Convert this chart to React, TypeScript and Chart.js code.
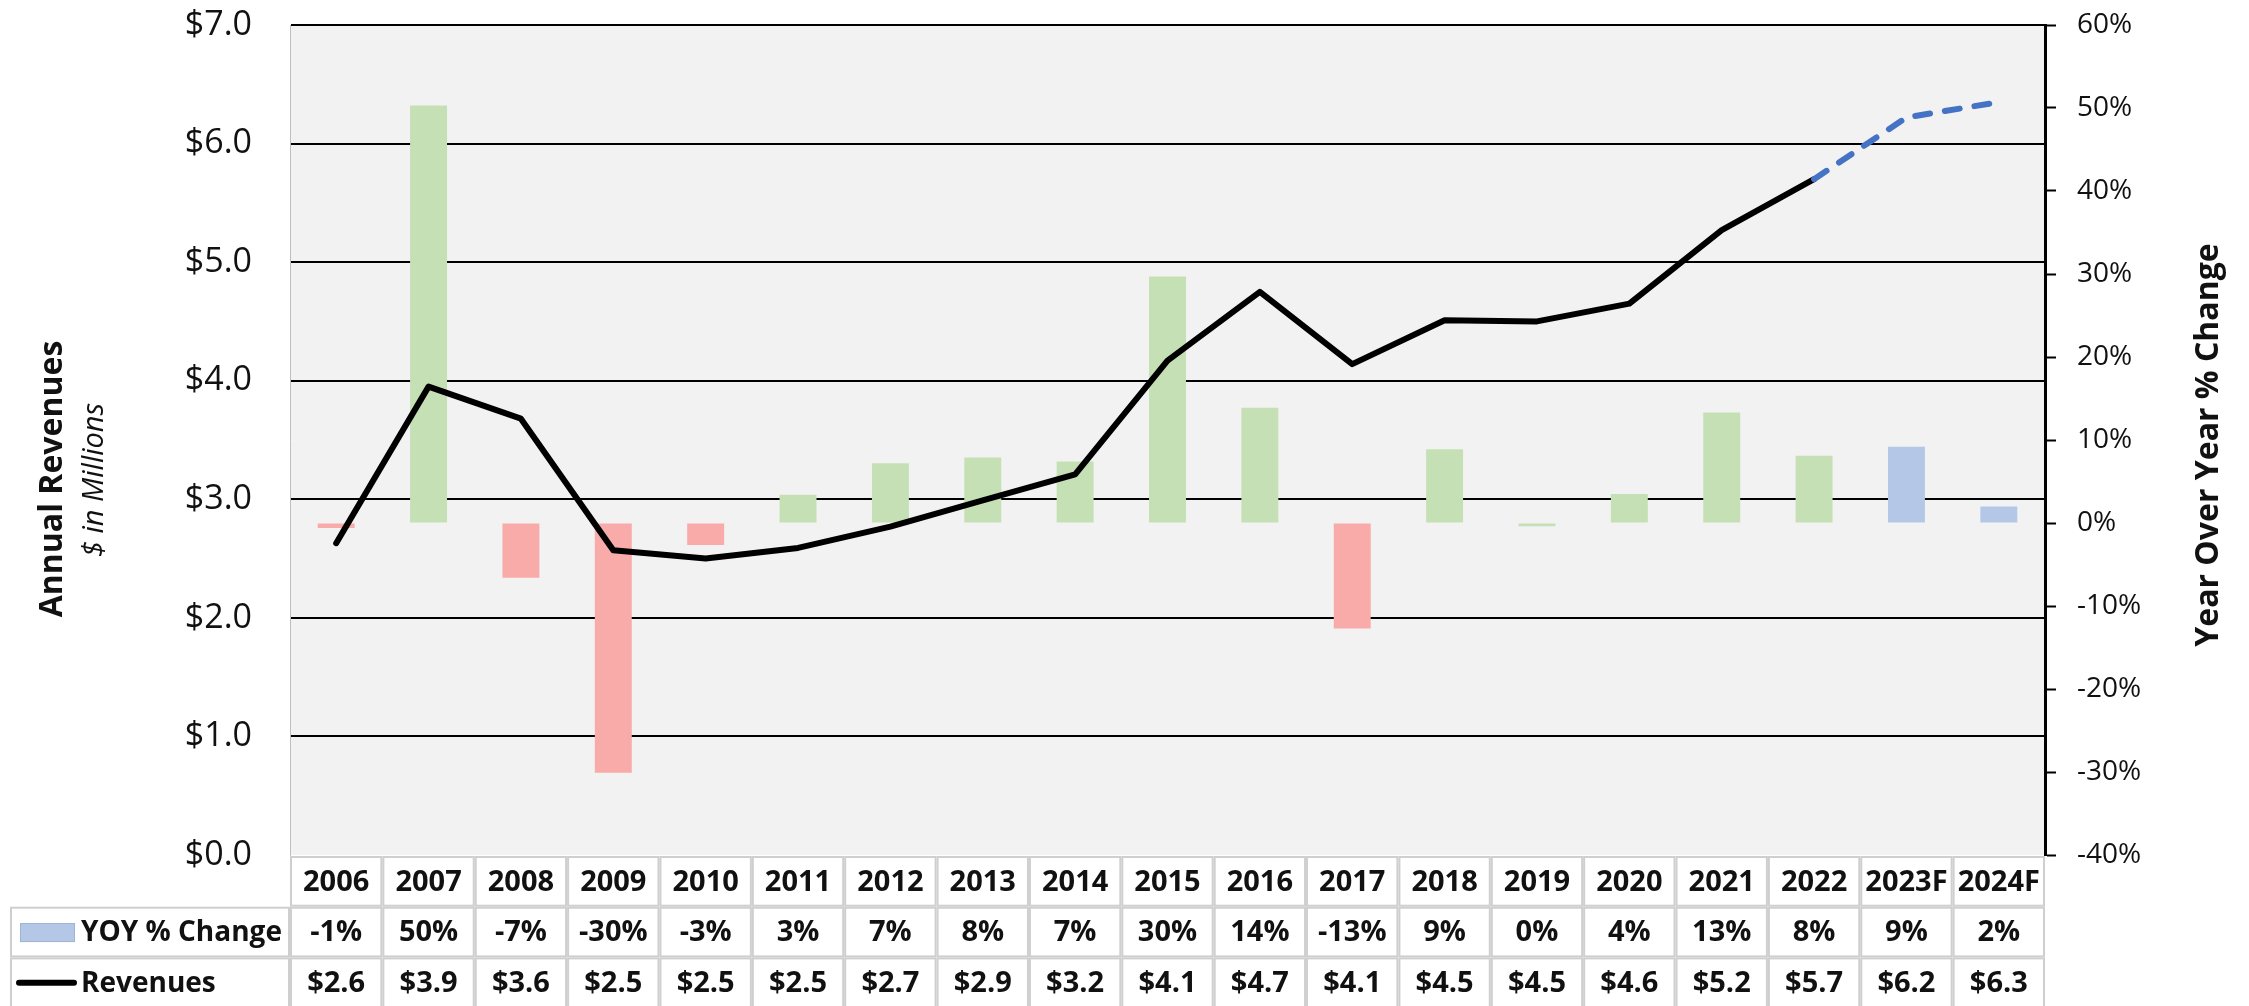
import React, { useEffect, useRef } from 'react';
import { Chart, registerables } from 'chart.js';

Chart.register(...registerables);

// ---------- data ----------
const years = ['2006', '2007', '2008', '2009', '2010', '2011', '2012', '2013', '2014', '2015', '2016', '2017', '2018', '2019', '2020', '2021', '2022', '2023F', '2024F'];
// Annual revenues, $ in millions
const revenues = [2.63, 3.95, 3.68, 2.57, 2.50, 2.59, 2.77, 2.99, 3.21, 4.17, 4.75, 4.14, 4.51, 4.50, 4.65, 5.27, 5.70, 6.22, 6.35];
// Year over year % change
const yoyChange = [-0.6, 50.3, -6.6, -30.1, -2.65, 3.4, 7.2, 7.9, 7.4, 29.7, 13.9, -12.7, 8.9, -0.4, 3.5, 13.3, 8.1, 9.2, 2.0];
const firstForecastIndex = 17;
const leftAxisRange = [0, 7, 1];
const rightAxisRange = [-40, 60, 10];
const seriesNames = ['YOY % Change', 'Revenues'];
const axisTitles = ['Annual Revenues', '$ in Millions', 'Year Over Year % Change'];

// ---------- styles ----------
const FONT = '"Open Sans", "Noto Sans", sans-serif';
const GREEN = '#c5e0b4';
const RED = '#f8aba9';
const BLUE_BAR = '#b4c7e7';
const BLUE_LINE = '#4472c4';
const TEXT = '#111111';

const yoyLabel = (v: number) => String(Math.round(v)) + '%';
const revLabel = (v: number) => '$' + (Math.floor(v * 10 + 1e-6) / 10).toFixed(1);

const barColors = yoyChange.map((v, i) =>
  i >= firstForecastIndex ? BLUE_BAR : Math.round(v) >= 0 ? GREEN : RED
);

const bgPlugin = {
  id: 'plotBg',
  beforeDraw(chart: any) {
    const { ctx, chartArea: a } = chart;
    ctx.save();
    ctx.fillStyle = '#ffffff';
    ctx.fillRect(0, 0, chart.width, chart.height);
    ctx.fillStyle = '#f2f2f2';
    ctx.fillRect(a.left, a.top, a.right - a.left, a.bottom - a.top);
    ctx.restore();
  },
};

const tablePlugin = {
  id: 'dataTable',
  afterDraw(chart: any) {
    const { ctx, chartArea: a, scales } = chart;
    const xs = scales.x;
    const n = years.length;
    const colW = (a.right - a.left) / n;
    const rowH = 50.7;
    const top = a.bottom + 1;
    const legendLeft = 11;
    ctx.save();
    // cell backgrounds
    ctx.fillStyle = '#ffffff';
    ctx.fillRect(a.left, top, a.right - a.left, rowH * 3);
    ctx.fillRect(legendLeft, top + rowH, a.left - legendLeft, rowH * 2);
    // borders
    ctx.strokeStyle = '#cfcfcf';
    ctx.lineWidth = 2;
    for (let r = 0; r < 3; r++) {
      for (let i = 0; i < n; i++) {
        ctx.strokeRect(a.left + i * colW + 1, top + r * rowH + 1, colW - 2, rowH - 2);
      }
      if (r > 0) {
        ctx.strokeRect(legendLeft, top + r * rowH + 1, a.left - legendLeft - 1, rowH - 2);
      }
    }
    // texts
    ctx.fillStyle = TEXT;
    ctx.textAlign = 'center';
    ctx.textBaseline = 'middle';
    ctx.font = 'bold 29px ' + FONT;
    for (let i = 0; i < n; i++) {
      const cx = xs.getPixelForValue(i);
      ctx.fillText(years[i], cx, top + rowH * 0.5 + 1);
      ctx.fillText(yoyLabel(yoyChange[i]), cx, top + rowH * 1.5 + 1);
      ctx.fillText(revLabel(revenues[i]), cx, top + rowH * 2.5 + 1);
    }
    // legend keys
    const y1 = top + rowH * 1.5;
    const y2 = top + rowH * 2.5;
    ctx.fillStyle = BLUE_BAR;
    ctx.fillRect(20, y1 - 9, 55, 19);
    ctx.strokeStyle = '#9fb3d8';
    ctx.lineWidth = 1;
    ctx.strokeRect(20.5, y1 - 8.5, 54, 18);
    ctx.strokeStyle = '#000';
    ctx.lineWidth = 6;
    ctx.lineCap = 'round';
    ctx.beginPath();
    ctx.moveTo(19, y2);
    ctx.lineTo(74, y2);
    ctx.stroke();
    ctx.fillStyle = TEXT;
    ctx.textAlign = 'left';
    ctx.font = 'bold 28px ' + FONT;
    ctx.fillText(seriesNames[0], 81, y1 + 1);
    ctx.fillText(seriesNames[1], 81, y2 + 1);
    ctx.restore();
  },
};

const titlePlugin = {
  id: 'axisTitles',
  afterDraw(chart: any) {
    const { ctx } = chart;
    const draw = (text: string, font: string, x: number, y: number) => {
      ctx.save();
      ctx.translate(x, y);
      ctx.rotate(-Math.PI / 2);
      ctx.font = font;
      ctx.fillStyle = TEXT;
      ctx.textAlign = 'center';
      ctx.textBaseline = 'alphabetic';
      ctx.fillText(text, 0, 0);
      ctx.restore();
    };
    draw(axisTitles[0], 'bold 32px ' + FONT, 62, 479);
    draw(axisTitles[1], 'italic 29px ' + FONT, 103, 480);
    draw(axisTitles[2], 'bold 32px ' + FONT, 2218, 445);
  },
};

export default function App() {
  const ref = useRef<HTMLCanvasElement>(null);

  useEffect(() => {
    document.body.style.margin = '0';
    const canvas = ref.current;
    if (!canvas) return;
    Chart.defaults.font.family = FONT;

    const chart = new Chart(canvas, {
      type: 'bar',
      data: {
        labels: years,
        datasets: [
          {
            type: 'line',
            label: seriesNames[1],
            data: revenues,
            yAxisID: 'y',
            borderColor: '#000000',
            borderWidth: 6,
            pointRadius: 0,
            pointHoverRadius: 0,
            tension: 0,
            fill: false,
            order: 0,
            borderCapStyle: 'round',
            borderJoinStyle: 'round',
            segment: {
              borderColor: (c: any) => (c.p0DataIndex >= firstForecastIndex - 1 ? BLUE_LINE : '#000000'),
              borderDash: (c: any) => (c.p0DataIndex >= firstForecastIndex - 1 ? [15, 15] : []),
            },
          } as any,
          {
            type: 'bar',
            label: seriesNames[0],
            data: yoyChange,
            yAxisID: 'y1',
            backgroundColor: barColors,
            borderWidth: 0,
            barPercentage: 0.4,
            categoryPercentage: 1.0,
            order: 1,
          },
        ],
      },
      options: {
        responsive: false,
        devicePixelRatio: 1,
        animation: false,
        layout: { padding: { left: 0, right: 0, top: 25, bottom: 151 } },
        plugins: {
          legend: { display: false },
          tooltip: { enabled: false },
          title: { display: false },
        },
        scales: {
          x: { display: false, offset: true },
          y: {
            position: 'left',
            min: leftAxisRange[0],
            max: leftAxisRange[1],
            ticks: {
              stepSize: leftAxisRange[2],
              padding: 38,
              color: TEXT,
              font: { size: 34, family: FONT },
              callback: (v: any) => '$' + Number(v).toFixed(1),
            },
            grid: {
              color: (c: any) => (c.tick && c.tick.value === 0 ? 'rgba(0,0,0,0)' : '#000000'),
              lineWidth: 2,
              drawTicks: false,
            },
            border: { display: true, color: '#bfbfbf', width: 1 },
            afterFit: (s: any) => {
              s.width = 290;
              s.paddingTop = 0;
              s.paddingBottom = 0;
            },
          },
          y1: {
            position: 'right',
            min: rightAxisRange[0],
            max: rightAxisRange[1],
            ticks: {
              stepSize: rightAxisRange[2],
              padding: 21,
              color: TEXT,
              font: { size: 28, family: FONT },
              callback: (v: any) => v + '%',
            },
            grid: {
              drawOnChartArea: false,
              drawTicks: true,
              tickLength: 11,
              tickColor: '#000000',
              tickWidth: 2,
            },
            border: { display: true, color: '#000000', width: 3 },
            afterFit: (s: any) => {
              s.width = 204;
              s.paddingTop = 0;
              s.paddingBottom = 0;
            },
          },
        } as any,
      },
      plugins: [bgPlugin, tablePlugin, titlePlugin],
    } as any);

    let alive = true;
    if ((document as any).fonts && (document as any).fonts.ready) {
      (document as any).fonts.ready.then(() => {
        if (alive) chart.update('none');
      });
    }
    return () => {
      alive = false;
      chart.destroy();
    };
  }, []);

  return (
    <div style={{ width: 2249, height: 1006 }}>
      <canvas ref={ref} width={2249} height={1006} style={{ display: 'block' }} />
    </div>
  );
}
